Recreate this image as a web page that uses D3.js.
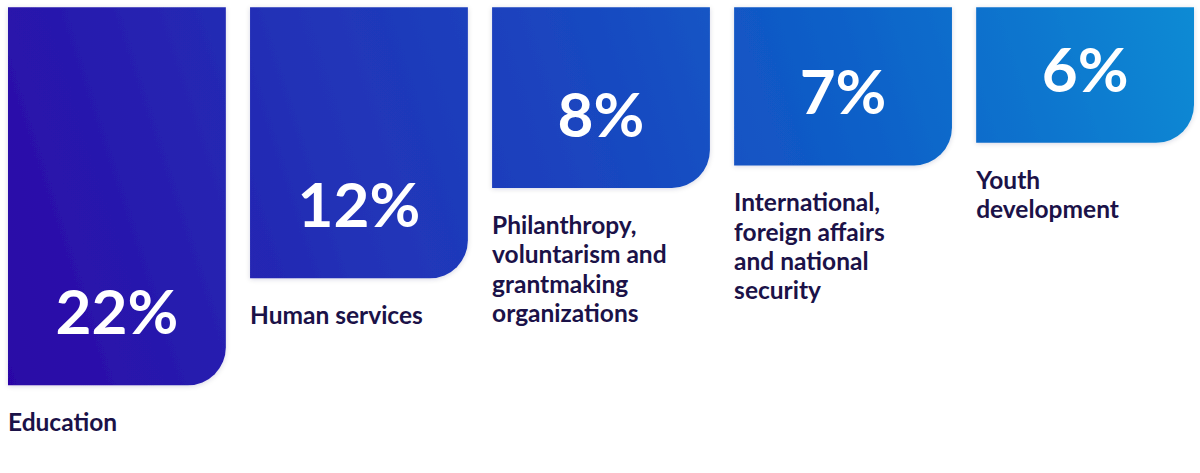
<!DOCTYPE html>
<html>
<head>
<meta charset="utf-8">
<script src="https://cdn.jsdelivr.net/npm/d3@7"></script>
<style>
  html, body { margin: 0; padding: 0; background: #ffffff; }
  svg { display: block; }
</style>
</head>
<body>
<svg id="chart" width="1200" height="473"></svg>
<script>
// ---- data ----
const categories = [
  "Education",
  "Human services",
  "Philanthropy, voluntarism and grantmaking organizations",
  "International, foreign affairs and national security",
  "Youth development"
];
const values = [22, 12, 8, 7, 6];
const valueLabels = ["22%", "12%", "8%", "7%", "6%"];

// ---- layout ----
const topY = 7.3;
const svg = d3.select("#chart");

const x = d3.scaleBand()
  .domain(categories)
  .range([8, 1194])
  .paddingInner(0.1)
  .paddingOuter(0);

// broken (piecewise) height scale, as in the design
const h = d3.scaleLinear().domain([0, 12, 22]).range([0, 271, 378]);

const defs = svg.append("defs");
const grad = defs.append("linearGradient")
  .attr("id", "barGrad")
  .attr("gradientUnits", "userSpaceOnUse")
  .attr("x1", 8).attr("y1", 380).attr("x2", 1194).attr("y2", 0);
[[0, "#2c06a6"], [0.3, "#2232b7"], [0.5, "#1a45bf"], [0.72, "#0e60c8"], [1, "#0a8bd4"]]
  .forEach(([o, c]) => grad.append("stop").attr("offset", o).attr("stop-color", c));

const filt = defs.append("filter").attr("id", "shadow")
  .attr("x", "-10%").attr("y", "-10%").attr("width", "120%").attr("height", "120%");
filt.append("feDropShadow").attr("dx", 0).attr("dy", 1).attr("stdDeviation", 2.5)
  .attr("flood-color", "#1a1a4a").attr("flood-opacity", 0.16);

function barPath(x0, y0, w, hh, r) {
  const rr = Math.min(r, hh, w);
  return `M${x0},${y0}H${x0 + w}V${y0 + hh - rr}` +
    `A${rr},${rr} 0 0 1 ${x0 + w - rr},${y0 + hh}H${x0}Z`;
}

const data = categories.map((c, i) => ({ c, v: values[i], lbl: valueLabels[i] }));

const g = svg.append("g");
const bars = g.selectAll("g.bar").data(data).join("g").attr("class", "bar");

bars.append("path")
  .attr("d", d => barPath(x(d.c), topY, x.bandwidth(), h(d.v), 38))
  .attr("fill", "url(#barGrad)")
  .attr("filter", "url(#shadow)");

bars.append("text")
  .attr("x", d => x(d.c) + x.bandwidth() / 2)
  .attr("y", d => topY + h(d.v) - 51)
  .attr("text-anchor", "middle")
  .attr("fill", "#ffffff")
  .style("font-family", "Lato, 'Open Sans', sans-serif")
  .style("font-weight", 700)
  .style("font-size", "62px")
  .text(d => d.lbl);

const fontLbl = "Lato, 'Open Sans', sans-serif";
const maxW = 185;
const lineH = 29.3;

bars.each(function(d) {
  const t = d3.select(this).append("text")
    .attr("x", x(d.c))
    .attr("y", topY + h(d.v) + 46)
    .attr("fill", "#1b1248")
    .style("font-family", fontLbl)
    .style("font-weight", 700)
    .style("font-size", "24.5px");
  const words = d.c.split(" ");
  let line = [];
  let tspan = t.append("tspan").attr("x", x(d.c)).attr("dy", 0);
  words.forEach(wd => {
    line.push(wd);
    tspan.text(line.join(" "));
    if (tspan.node().getComputedTextLength() > maxW && line.length > 1) {
      line.pop();
      tspan.text(line.join(" "));
      line = [wd];
      tspan = t.append("tspan").attr("x", x(d.c)).attr("dy", lineH).text(wd);
    }
  });
});
</script>
</body>
</html>
